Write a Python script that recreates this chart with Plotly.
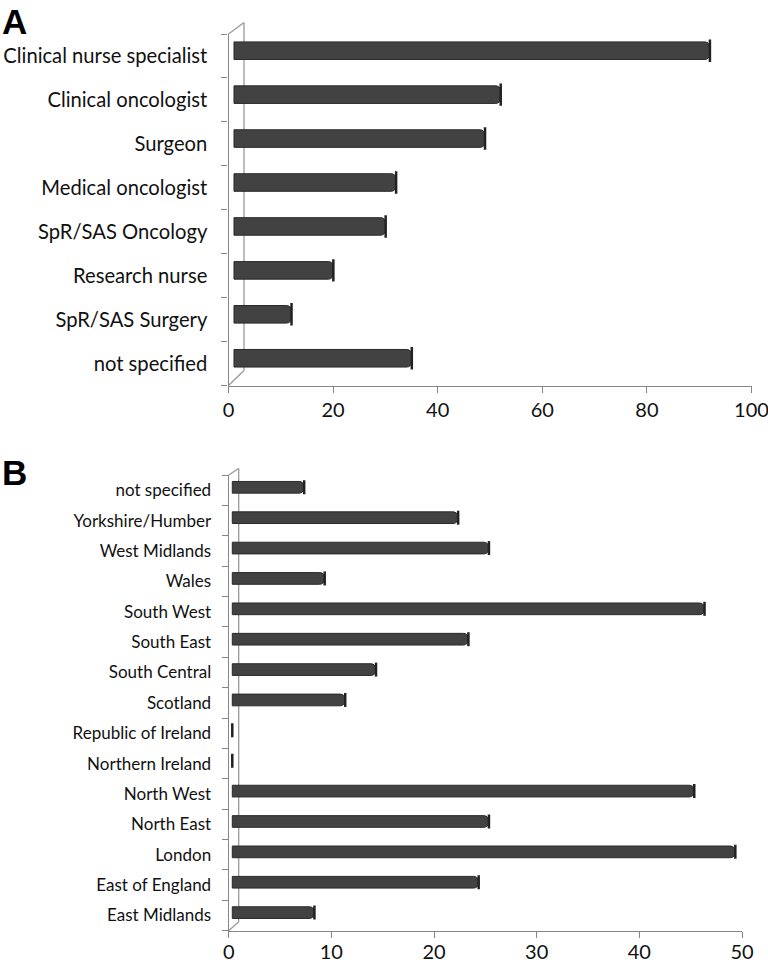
import plotly.graph_objects as go

# ---------------- data ----------------
roles = ["not specified", "SpR/SAS Surgery", "Research nurse", "SpR/SAS Oncology",
         "Medical oncologist", "Surgeon", "Clinical oncologist", "Clinical nurse specialist"]
role_values = [34, 11, 19, 29, 31, 48, 51, 91]
role_ticks = [0, 20, 40, 60, 80, 100]

regions = ["East Midlands", "East of England", "London", "North East", "North West",
           "Northern Ireland", "Republic of Ireland", "Scotland", "South Central",
           "South East", "South West", "Wales", "West Midlands", "Yorkshire/Humber",
           "not specified"]
region_values = [8, 24, 49, 25, 45, 0, 0, 11, 14, 23, 46, 9, 25, 22, 7]
region_ticks = [0, 10, 20, 30, 40, 50]

# ---------------- layout helpers ----------------
W, H = 768, 964
def fx(px):
    return px / W
def fy(py):
    return 1 - py / H

AXIS = "#868686"
WALL = "#9a9a9a"
BAR = "#424242"
BAR_LINE = "#2a2a2a"
CAP = "#222222"
FONT = "Lato, 'Open Sans', sans-serif"

fig = go.Figure()

def add_panel(cats, vals, xs, ys, xs_h, ys_h, bar_w, cap_size):
    # carrier trace for the visible (front) axes
    fig.add_trace(go.Scatter(
        x=vals, y=cats, mode="markers", marker=dict(opacity=0, size=1),
        xaxis=xs, yaxis=ys, showlegend=False, hoverinfo="skip"))
    fig.add_trace(go.Bar(
        x=vals, y=cats, orientation="h", width=bar_w,
        marker=dict(color=BAR, line=dict(color=BAR_LINE, width=1)),
        xaxis=xs_h, yaxis=ys_h, showlegend=False, hoverinfo="x+y"))
    fig.add_trace(go.Scatter(
        x=vals, y=cats, mode="markers",
        marker=dict(symbol="line-ns", size=cap_size, color=CAP,
                    line=dict(color=CAP, width=2.5)),
        xaxis=xs_h, yaxis=ys_h, showlegend=False, hoverinfo="skip"))

add_panel(roles, role_values, "x", "y", "x2", "y2", 0.4, 16)
add_panel(regions, region_values, "x3", "y3", "x4", "y4", 0.385, 10)

def vis_y(domain, cats, size, standoff, anchor):
    return dict(domain=domain, anchor=anchor, type="category",
                categoryorder="array", categoryarray=cats,
                range=[-0.5, len(cats) - 0.5], showline=True, linecolor=AXIS,
                linewidth=1.3, ticks="outside", ticklen=6, tickcolor=AXIS,
                tickwidth=1.3, tickson="boundaries", showgrid=False,
                zeroline=False, ticklabelstandoff=standoff, automargin=False,
                ticklabeloverflow="allow",
                tickfont=dict(family=FONT, size=size, color="#111111"))

def vis_x(domain, rng, ticks, size, anchor, standoff):
    return dict(domain=domain, anchor=anchor, range=rng, tickvals=ticks,
                showline=True, linecolor=AXIS, linewidth=1.3, ticks="outside",
                ticklen=6, tickcolor=AXIS, tickwidth=1.3, showgrid=False,
                zeroline=False, automargin=False, ticklabeloverflow="allow",
                ticklabelstandoff=standoff,
                tickfont=dict(family=FONT, size=size, color="#111111"))

def hid_axis(over, anchor, rng, **kw):
    d = dict(overlaying=over, anchor=anchor, range=rng, visible=False,
             showgrid=False, zeroline=False, automargin=False)
    d.update(kw)
    return d

# Panel A geometry
xA = [fx(228.5), fx(751.5)]
yA = [fy(385.5), fy(34)]
# Panel B geometry
xB = [fx(228.7), fx(742)]
yB = [fy(930.7), fy(475)]

dA = 0.12
dB = 0.095

fig.update_layout(
    width=W, height=H, autosize=False,
    margin=dict(l=0, r=0, t=0, b=0, autoexpand=False),
    paper_bgcolor="white", plot_bgcolor="rgba(0,0,0,0)",
    barcornerradius=5,
    xaxis=vis_x(xA, [0, 100], role_ticks, 20, "y", 0),
    yaxis=vis_y(yA, roles, 20.2, 16, "x"),
    xaxis2=hid_axis("x", "y2", [-1.05, 98.95]),
    yaxis2=hid_axis("y", "x2", [-0.5 - dA, len(roles) - 0.5 - dA], type="category",
                    categoryorder="array", categoryarray=roles),
    xaxis3=vis_x(xB, [0, 50], region_ticks, 20, "y3", -3),
    yaxis3=vis_y(yB, regions, 17, 13, "x3"),
    xaxis4=hid_axis("x3", "y4", [-0.35, 49.65]),
    yaxis4=hid_axis("y3", "x4", [-0.5 - dB, len(regions) - 0.5 - dB], type="category",
                    categoryorder="array", categoryarray=regions),
)

# 3-D wall edges (decoration of the axis frame)
def seg(x0, y0, x1, y1):
    fig.add_shape(type="line", xref="paper", yref="paper",
                  x0=fx(x0), y0=fy(y0), x1=fx(x1), y1=fy(y1),
                  line=dict(color=WALL, width=1.3), layer="below")

seg(228.5, 34, 244, 22.5)
seg(244, 22.5, 244, 370.5)
seg(228.5, 385.5, 244, 370.5)

seg(228.7, 475, 238.7, 468.5)
seg(238.7, 468.5, 238.7, 921.7)
seg(228.7, 930.7, 238.7, 921.7)

# panel letters
for letter, ypx in (("A", 0), ("B", 451)):
    fig.add_annotation(text="<b>%s</b>" % letter, xref="paper", yref="paper",
                       x=0, y=fy(ypx), xanchor="left", yanchor="top",
                       showarrow=False, xshift=0,
                       font=dict(family="Liberation Sans, Arial, sans-serif",
                                 size=35, color="black"))

fig.write_html("out.html",
               config={"displayModeBar": False, "responsive": False},
               post_script="document.body.style.margin='0';"
                           "document.body.style.overflow='hidden';")
